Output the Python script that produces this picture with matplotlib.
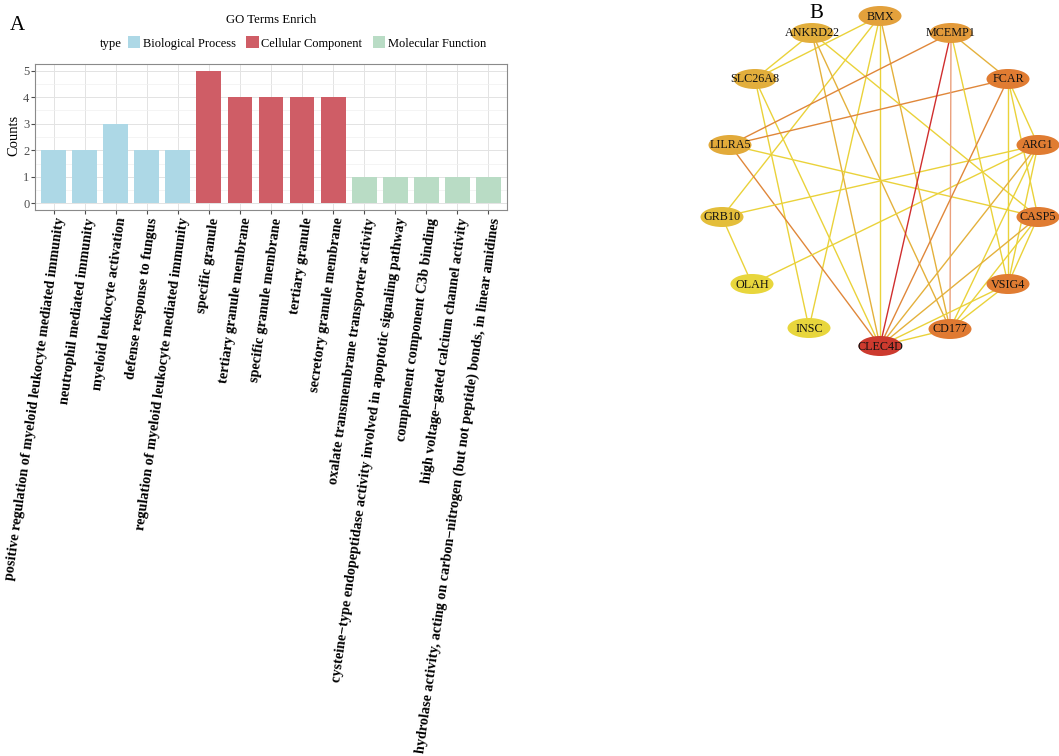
import matplotlib
matplotlib.use("Agg")
import matplotlib.pyplot as plt
from matplotlib.patches import Ellipse, Patch
import numpy as np

plt.rcParams['font.family'] = ['Liberation Serif', 'DejaVu Serif']

W, H = 1059, 756

###############################
# Data: panel A (GO enrichment)
###############################
terms = [
    "positive regulation of myeloid leukocyte mediated immunity",
    "neutrophil mediated immunity",
    "myeloid leukocyte activation",
    "defense response to fungus",
    "regulation of myeloid leukocyte mediated immunity",
    "specific granule",
    "tertiary granule membrane",
    "specific granule membrane",
    "tertiary granule",
    "secretory granule membrane",
    "oxalate transmembrane transporter activity",
    "cysteine\u2212type endopeptidase activity involved in apoptotic signaling pathway",
    "complement component C3b binding",
    "high voltage\u2212gated calcium channel activity",
    "hydrolase activity, acting on carbon\u2212nitrogen (but not peptide) bonds, in linear amidines",
]
counts = [2, 2, 3, 2, 2, 5, 4, 4, 4, 4, 1, 1, 1, 1, 1]
types = ["Biological Process"] * 5 + ["Cellular Component"] * 5 + ["Molecular Function"] * 5
type_levels = ["Biological Process", "Cellular Component", "Molecular Function"]
type_colors = {"Biological Process": "#add8e6",
               "Cellular Component": "#cf5d66",
               "Molecular Function": "#b9dcc5"}

###############################
# Data: panel B (PPI network)
###############################
genes = ["BMX", "ANKRD22", "MCEMP1", "SLC26A8", "FCAR", "LILRA5", "ARG1",
         "GRB10", "CASP5", "OLAH", "VSIG4", "INSC", "CD177", "CLEC4D"]
node_x = [880, 812, 951, 755, 1008, 730, 1038, 722, 1038, 752, 1008, 809, 950, 880]
node_y = [16, 33, 33, 79, 79, 145, 145, 217, 217, 284, 284, 328, 329, 346]
node_colors = ["#e3a13c", "#e2ae3c", "#e39a3a", "#e2ae3c", "#e07c32", "#e2aa3a",
               "#e07c32", "#e4be3a", "#e07c32", "#e8d63c", "#e07c32", "#e8d63c",
               "#e07a32", "#cc3a2e"]
# (source, target, strength level)
edges = [
    ("BMX", "SLC26A8", 0), ("BMX", "GRB10", 0), ("BMX", "CLEC4D", 0),
    ("BMX", "INSC", 0), ("BMX", "CD177", 1),
    ("ANKRD22", "SLC26A8", 0), ("ANKRD22", "CLEC4D", 1), ("ANKRD22", "CD177", 1),
    ("ANKRD22", "CASP5", 0),
    ("SLC26A8", "INSC", 0), ("SLC26A8", "CLEC4D", 0),
    ("LILRA5", "MCEMP1", 2), ("LILRA5", "FCAR", 2), ("LILRA5", "CLEC4D", 2),
    ("LILRA5", "CASP5", 0),
    ("GRB10", "OLAH", 0), ("GRB10", "ARG1", 0), ("OLAH", "ARG1", 0),
    ("MCEMP1", "FCAR", 1), ("MCEMP1", "CLEC4D", 3), ("MCEMP1", "CD177", 4),
    ("MCEMP1", "VSIG4", 0),
    ("FCAR", "CLEC4D", 2), ("FCAR", "VSIG4", 0), ("FCAR", "CASP5", 0),
    ("FCAR", "ARG1", 0),
    ("ARG1", "VSIG4", 0), ("ARG1", "CD177", 0), ("ARG1", "CLEC4D", 1),
    ("CASP5", "VSIG4", 0), ("CASP5", "CD177", 0), ("CASP5", "CLEC4D", 1),
    ("VSIG4", "CD177", 0), ("VSIG4", "CLEC4D", 0), ("CD177", "CLEC4D", 0),
]
edge_palette = ["#ead23a", "#e4b13c", "#e0873a", "#d02e2e", "#eba07c"]


def main():
    fig = plt.figure(figsize=(W / 100, H / 100), dpi=100)

    # ---- Panel A: bar chart ----
    ax = fig.add_axes([35 / W, 1 - 210 / H, 472 / W, 146 / H])
    xs = np.arange(1, len(terms) + 1)
    ax.bar(xs, counts, width=0.8, color=[type_colors[t] for t in types], zorder=3)
    ax.set_xlim(0.4, len(terms) + 0.6)
    ax.set_ylim(-0.25, 5.25)
    ax.set_yticks(range(0, 6))
    ax.set_yticks(np.arange(0.5, 5, 1), minor=True)
    ax.set_xticks(xs)
    ax.set_xticklabels(terms, rotation=82, ha='right', va='top',
                       rotation_mode='anchor', fontsize=10.3, fontweight='bold')
    ax.tick_params(axis='y', which='major', labelsize=9, labelcolor='#4d4d4d',
                   color='#4d4d4d', length=3, pad=1)
    ax.tick_params(axis='y', which='minor', length=0)
    ax.tick_params(axis='x', color='#4d4d4d', length=3, pad=2)
    ax.grid(True, which='major', color='#e3e3e3', linewidth=0.7, zorder=0)
    ax.grid(True, which='minor', axis='y', color='#f0f0f0', linewidth=0.5, zorder=0)
    for s in ax.spines.values():
        s.set_color('#8a8a8a')
        s.set_linewidth(0.8)
    fig.text(14 / W, 1 - 135 / H, "Counts", rotation=90, ha='center', va='center',
             fontsize=10.5)

    fig.text(271 / W, 1 - 20 / H, "GO Terms Enrich", ha='center', va='center', fontsize=9.2)
    fig.text(100 / W, 1 - 44 / H, "type", ha='left', va='center', fontsize=9.2)
    handles = [Patch(facecolor=type_colors[t], edgecolor='none') for t in type_levels]
    fig.legend(handles, type_levels, loc='center left',
               bbox_to_anchor=(128 / W, 1 - 43 / H), ncol=3, frameon=False,
               fontsize=8.9, handlelength=1.0, handleheight=1.1,
               handletextpad=0.2, columnspacing=0.85, borderpad=0, borderaxespad=0)

    fig.text(17 / W, 1 - 25 / H, "A", ha='center', va='center', fontsize=15)
    fig.text(816 / W, 1 - 13 / H, "B", ha='center', va='center', fontsize=15)

    # ---- Panel B: network ----
    ax2 = fig.add_axes([700 / W, 1 - 365 / H, 359 / W, 365 / H])
    ax2.set_xlim(700, 1059)
    ax2.set_ylim(365, 0)
    ax2.axis('off')
    pos = {g: (x, y) for g, x, y in zip(genes, node_x, node_y)}
    for a, b, lvl in edges:
        (x0, y0), (x1, y1) = pos[a], pos[b]
        ax2.plot([x0, x1], [y0, y1], color=edge_palette[lvl], linewidth=1.0,
                 zorder=1, solid_capstyle='butt')
    for g, c in zip(genes, node_colors):
        x, y = pos[g]
        ax2.add_patch(Ellipse((x, y), width=43, height=20, facecolor=c,
                              edgecolor='none', zorder=2))
        ax2.text(x, y + 0.5, g, ha='center', va='center', fontsize=8.7,
                 color='#111111', zorder=3)

    fig.savefig("out.png", dpi=100)


if __name__ == "__main__":
    main()
